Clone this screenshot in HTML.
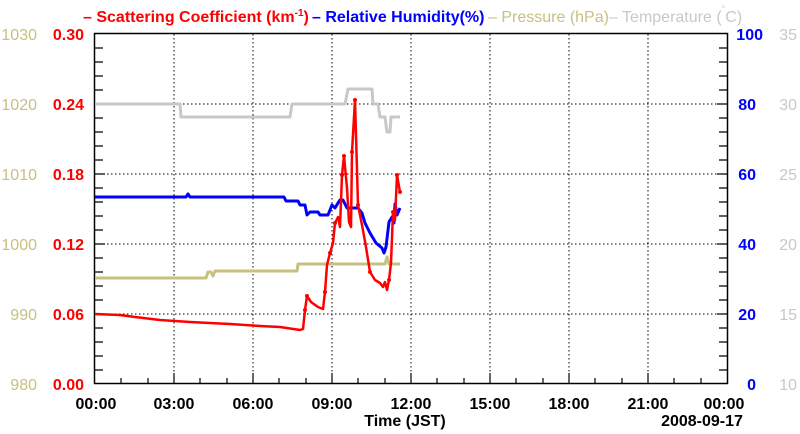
<!DOCTYPE html>
<html><head><style>body{margin:0;background:#fff}svg{display:block}text{font-family:"Liberation Sans",Arial,sans-serif;font-weight:bold;font-size:16px}</style></head><body>
<svg width="800" height="434" xmlns="http://www.w3.org/2000/svg">
<g stroke="#000" stroke-dasharray="1.5,2.5" stroke-width="1">
<line x1="174" y1="34" x2="174" y2="383"/><line x1="253" y1="34" x2="253" y2="383"/><line x1="332" y1="34" x2="332" y2="383"/><line x1="411" y1="34" x2="411" y2="383"/><line x1="490" y1="34" x2="490" y2="383"/><line x1="569" y1="34" x2="569" y2="383"/><line x1="648" y1="34" x2="648" y2="383"/>
<line x1="95" y1="104" x2="727" y2="104"/><line x1="95" y1="174" x2="727" y2="174"/><line x1="95" y1="244" x2="727" y2="244"/><line x1="95" y1="314" x2="727" y2="314"/>
</g>
<rect x="94.5" y="33.5" width="633" height="350" fill="none" stroke="#000" stroke-width="1.5"/>
<g stroke="#000" stroke-width="1.2">
<path d="M95 48h8M95 62h8M95 76h8M95 90h8M95 104h10M95 118h8M95 132h8M95 146h8M95 160h8M95 174h10M95 188h8M95 202h8M95 216h8M95 230h8M95 244h10M95 258h8M95 272h8M95 286h8M95 300h8M95 314h10M95 328h8M95 342h8M95 356h8M95 370h8"/>
<path d="M727 48h-8M727 62h-8M727 76h-8M727 90h-8M727 104h-10M727 118h-8M727 132h-8M727 146h-8M727 160h-8M727 174h-10M727 188h-8M727 202h-8M727 216h-8M727 230h-8M727 244h-10M727 258h-8M727 272h-8M727 286h-8M727 300h-8M727 314h-10M727 328h-8M727 342h-8M727 356h-8M727 370h-8"/>
<path d="M121 383v-5M148 383v-5M174 383v-10M200 383v-5M227 383v-5M253 383v-10M279 383v-5M306 383v-5M332 383v-10M358 383v-5M385 383v-5M411 383v-10M437 383v-5M464 383v-5M490 383v-10M516 383v-5M543 383v-5M569 383v-10M595 383v-5M622 383v-5M648 383v-10M674 383v-5M701 383v-5"/>
</g>
<g fill="none" stroke-width="3" stroke-linejoin="round">
<polyline stroke="#c8c8c8" points="95,104 180,104 181,117 290,117 292,104 345,104 348,89 372,89 373,104 378,104 380,117 385,117 387,132 390,132 391,117 400,117"/>
<polyline stroke="#c8c080" points="95,278 206,278 208,272 211,272 213,276 215,271 297,271 298,264 385,264 387,257 389,264 400,264"/>
<polyline stroke="#0000ff" points="95,197 186,197 188,194 190,197 284,197 286,201 298,201 300,205 305,205 307,215 310,212 318,212 320,215 328,215 332,205 335,208 338,203 340,200 343,200 347,208 358,208 362,213 365,223 370,233 376,243 382,248 384,253 386,247 389,222 392,217 394,223 395,204 397,215 400,208"/>
<polyline stroke="#ff0000" stroke-width="2.5" points="95,314 120,315 135,317 160,320 190,322 230,324 260,326 280,327 300,330 303,329 305,310 307,296 311,302 318,307 323,309 325,292 327,265 330,253 333,243 335,223 338,217 340,227 342,175 344,156 347,188 349,222 351,227 352,152 355,100 358,205 362,225 366,247 370,272 375,280 380,283 383,287 385,282 387,290 389,280 391,263 393,212 395,220 397,175 400,192"/>
</g>
<g fill="#ff0000"><circle cx="305" cy="310" r="2"/><circle cx="307" cy="296" r="2"/><circle cx="325" cy="292" r="2"/><circle cx="330" cy="253" r="2"/><circle cx="335" cy="223" r="2"/><circle cx="342" cy="175" r="2"/><circle cx="344" cy="156" r="2"/><circle cx="352" cy="152" r="2"/><circle cx="355" cy="100" r="2"/><circle cx="358" cy="205" r="2"/><circle cx="370" cy="272" r="2"/><circle cx="389" cy="280" r="2"/><circle cx="393" cy="212" r="2"/><circle cx="397" cy="175" r="2"/><circle cx="400" cy="192" r="2"/></g>
<g text-anchor="end" fill="#c8c080" style="font-weight:normal"><text x="37" y="40" style="font-weight:normal">1030</text><text x="37" y="110" style="font-weight:normal">1020</text><text x="37" y="180" style="font-weight:normal">1010</text><text x="37" y="250" style="font-weight:normal">1000</text><text x="37" y="320" style="font-weight:normal">990</text><text x="37" y="390" style="font-weight:normal">980</text></g>
<g text-anchor="end" fill="#ff0000"><text x="84" y="40">0.30</text><text x="84" y="110">0.24</text><text x="84" y="180">0.18</text><text x="84" y="250">0.12</text><text x="84" y="320">0.06</text><text x="84" y="390">0.00</text></g>
<g text-anchor="end" fill="#0000ff"><text x="763" y="40">100</text><text x="756" y="110">80</text><text x="756" y="180">60</text><text x="756" y="250">40</text><text x="756" y="320">20</text><text x="756" y="390">0</text></g>
<g text-anchor="end" fill="#c8c8c8"><text x="797" y="40" style="font-weight:normal">35</text><text x="797" y="110" style="font-weight:normal">30</text><text x="797" y="180" style="font-weight:normal">25</text><text x="797" y="250" style="font-weight:normal">20</text><text x="797" y="320" style="font-weight:normal">15</text><text x="797" y="390" style="font-weight:normal">10</text></g>
<g text-anchor="middle" fill="#000"><text x="96" y="409">00:00</text><text x="174" y="409">03:00</text><text x="253" y="409">06:00</text><text x="332" y="409">09:00</text><text x="411" y="409">12:00</text><text x="490" y="409">15:00</text><text x="569" y="409">18:00</text><text x="648" y="409">21:00</text><text x="724" y="409">00:00</text>
<text x="405" y="426">Time (JST)</text><text x="702" y="426">2008-09-17</text></g>
<text x="83" y="22" fill="#ff0000">– Scattering Coefficient (km<tspan font-size="10" dy="-6">-1</tspan><tspan dy="6">) </tspan></text>
<text x="312" y="22" fill="#0000ff">– Relative Humidity(%)</text>
<text x="488" y="22" fill="#c8c080" style="font-weight:normal">– Pressure (hPa)</text>
<text x="609" y="22" fill="#c8c8c8" style="font-weight:normal">– Temperature (<tspan font-size="9" dy="-10">°</tspan><tspan dy="10">C)</tspan></text>
</svg>
</body></html>
